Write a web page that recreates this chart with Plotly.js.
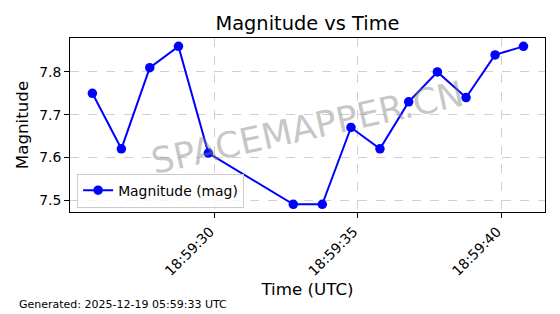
<!DOCTYPE html>
<html>
<head>
<meta charset="utf-8">
<script src="https://cdn.plot.ly/plotly-3.0.1.min.js"></script>
<style>html,body{margin:0;padding:0;background:#fff;}#chart{width:560px;height:314px;}</style>
</head>
<body>
<div id="chart"></div>
<script>
const times = [
  '2025-12-18 18:59:25.76', '2025-12-18 18:59:26.77', '2025-12-18 18:59:27.76',
  '2025-12-18 18:59:28.76', '2025-12-18 18:59:29.80', '2025-12-18 18:59:32.76',
  '2025-12-18 18:59:33.77', '2025-12-18 18:59:34.77', '2025-12-18 18:59:35.78',
  '2025-12-18 18:59:36.78', '2025-12-18 18:59:37.78', '2025-12-18 18:59:38.78',
  '2025-12-18 18:59:39.79', '2025-12-18 18:59:40.78'
];
const magnitudes = [7.75, 7.62, 7.81, 7.86, 7.61, 7.49, 7.49, 7.67, 7.62, 7.73, 7.80, 7.74, 7.84, 7.86];
const xTickVals = ['2025-12-18 18:59:30', '2025-12-18 18:59:35', '2025-12-18 18:59:40'];
const xTickText = ['18:59:30', '18:59:35', '18:59:40'];
const seriesName = 'Magnitude (mag)';
const chartTitle = 'Magnitude vs Time';
const xTitle = 'Time (UTC)';
const yTitle = 'Magnitude';
const footerText = 'Generated: 2025-12-19 05:59:33 UTC';
const watermarkText = 'SPACEMAPPER.CN';

const FONT = 'DejaVu Sans, sans-serif';

const trace = {
  x: times,
  y: magnitudes,
  type: 'scatter',
  mode: 'lines+markers',
  name: seriesName,
  line: {color: '#0000ff', width: 2},
  marker: {color: '#0000ff', size: 9.5, symbol: 'circle'}
};

const axisCommon = {
  showline: true, mirror: true, linecolor: '#000', linewidth: 1,
  ticks: 'outside', ticklen: 5, tickwidth: 1, tickcolor: '#000',
  showgrid: true, gridcolor: 'rgba(176,176,176,0.6)', griddash: 'dash', gridwidth: 1,
  zeroline: false,
  tickfont: {family: FONT, size: 13.9, color: '#000'}
};

const layout = {
  width: 560, height: 314,
  margin: {l: 70, r: 15, t: 38, b: 102, pad: 0},
  paper_bgcolor: '#fff', plot_bgcolor: '#fff',
  font: {family: FONT, color: '#000'},
  showlegend: true,
  title: {
    text: chartTitle, font: {family: FONT, size: 19.4, color: '#000'},
    xref: 'paper', x: 0.5, xanchor: 'center',
    yref: 'container', y: 1 - 23 / 314, yanchor: 'middle'
  },
  xaxis: Object.assign({}, axisCommon, {
    type: 'date',
    range: ['2025-12-18 18:59:24.98', '2025-12-18 18:59:41.53'],
    tickmode: 'array', tickvals: xTickVals, ticktext: xTickText,
    tickangle: -45, ticklabelshift: -4,
    automargin: false,
    title: {text: xTitle, font: {family: FONT, size: 16.7, color: '#000'}, standoff: 2}
  }),
  yaxis: Object.assign({}, axisCommon, {
    range: [7.472, 7.8796], dtick: 0.1, tickformat: '.1f',
    automargin: false,
    title: {text: yTitle, font: {family: FONT, size: 16.7, color: '#000'}, standoff: 6}
  }),
  legend: {
    x: 0.015, y: 0.025, xanchor: 'left', yanchor: 'bottom',
    bgcolor: 'rgba(255,255,255,0.8)', bordercolor: '#cccccc', borderwidth: 1,
    font: {family: FONT, size: 13.9, color: '#000'},
    itemwidth: 30
  },
  annotations: [
    {
      text: watermarkText, xref: 'paper', yref: 'paper',
      x: 0.499, y: 0.4885, xanchor: 'center', yanchor: 'middle',
      showarrow: false, textangle: -12.5,
      font: {family: FONT, size: 35.5, color: 'rgba(128,128,128,0.45)'}
    },
    {
      text: footerText, xref: 'paper', yref: 'paper',
      x: (17 - 70) / 475, y: (212 - 304) / 174, xanchor: 'left', yanchor: 'middle',
      showarrow: false,
      font: {family: FONT, size: 11, color: '#000'}
    }
  ]
};

Plotly.newPlot('chart', [trace], layout, {displayModeBar: false, staticPlot: true});
</script>
</body>
</html>
